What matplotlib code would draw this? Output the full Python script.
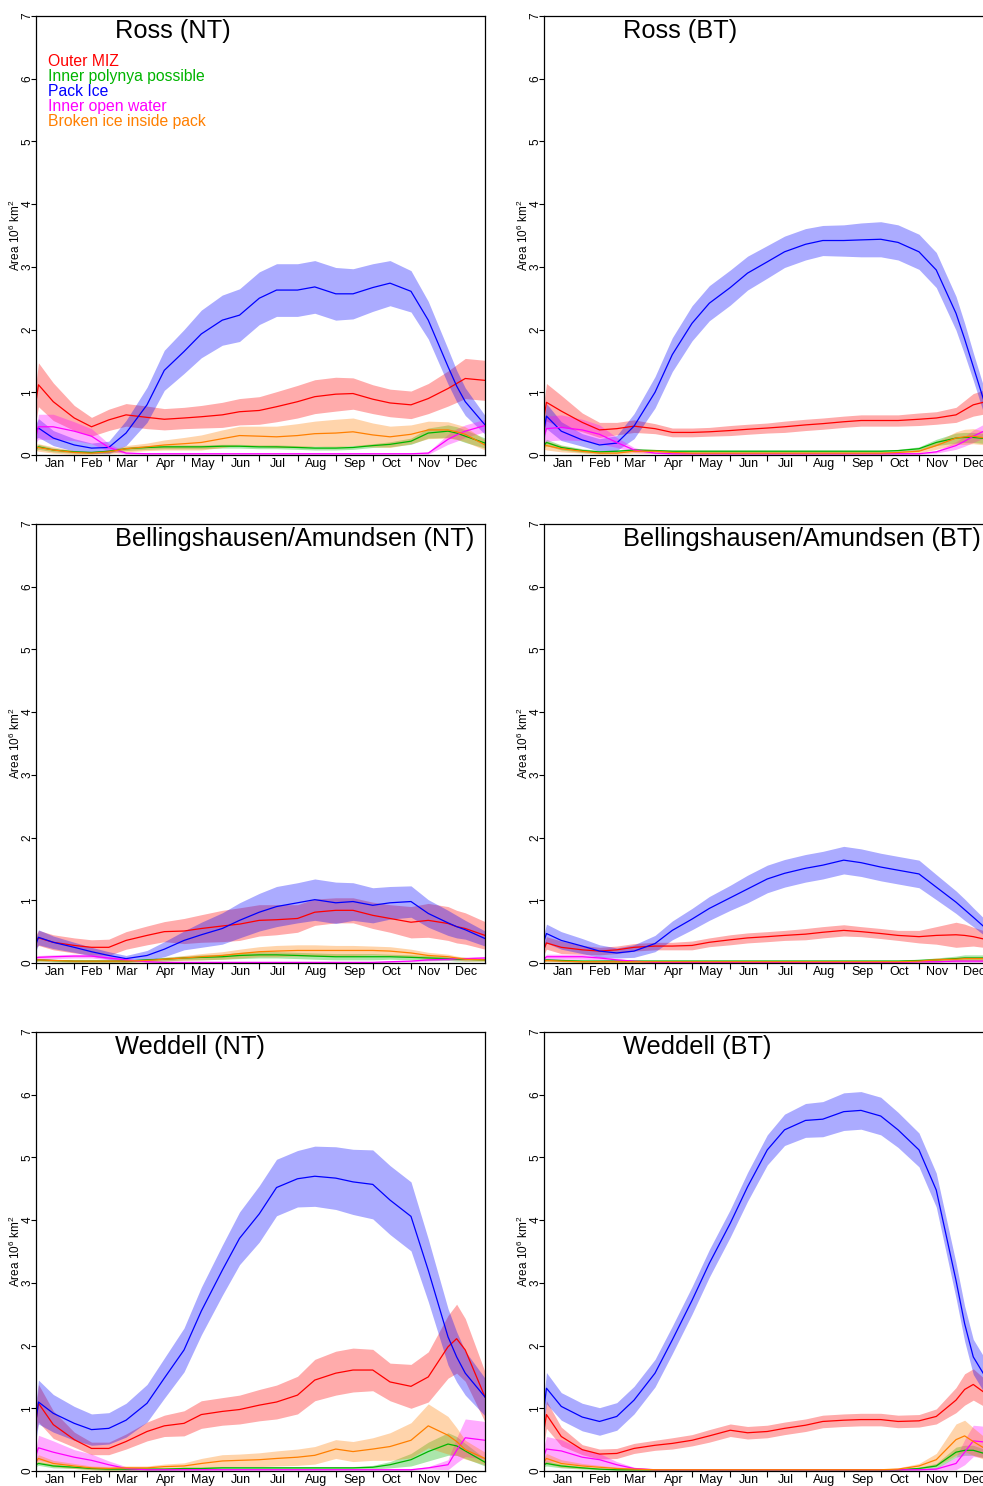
import matplotlib.pyplot as plt

plt.rcParams['font.family'] = ['Liberation Sans', 'DejaVu Sans']
plt.rcParams['mathtext.fontset'] = 'custom'
plt.rcParams['mathtext.rm'] = 'Liberation Sans'
plt.rcParams['mathtext.default'] = 'regular'

# day of year for every sample below
days = [1, 3, 15, 32, 46, 60, 74, 91, 105, 121, 135, 152, 166, 182, 196,
        213, 227, 244, 258, 274, 288, 305, 319, 335, 342, 349, 365]

month_starts = [1, 32, 60, 91, 121, 152, 182, 213, 244, 274, 305, 335]
month_mids = [16, 46, 75, 106, 136, 167, 197, 228, 259, 289, 320, 350]
month_names = ['Jan', 'Feb', 'Mar', 'Apr', 'May', 'Jun',
               'Jul', 'Aug', 'Sep', 'Oct', 'Nov', 'Dec']

class_names = ['Outer MIZ', 'Inner polynya possible', 'Pack Ice',
               'Inner open water', 'Broken ice inside pack']
class_colors = ['#ff0000', '#00b400', '#0000ff', '#ff00ff', '#ff7f00']

# ---- Ross, NASA Team ----
ross_nt_miz = [0.85, 1.12, 0.85, 0.59, 0.45, 0.56, 0.64, 0.60, 0.57, 0.59, 0.61, 0.64, 0.69, 0.71, 0.77,
               0.85, 0.93, 0.97, 0.98, 0.89, 0.83, 0.80, 0.90, 1.06, 1.14, 1.22, 1.19]
ross_nt_miz_sd = [0.30, 0.35, 0.30, 0.20, 0.15, 0.17, 0.18, 0.18, 0.17, 0.17, 0.18, 0.20, 0.21, 0.22, 0.24,
                  0.26, 0.27, 0.27, 0.25, 0.23, 0.22, 0.22, 0.24, 0.28, 0.30, 0.32, 0.32]
ross_nt_poly = [0.10, 0.13, 0.08, 0.05, 0.04, 0.06, 0.10, 0.12, 0.13, 0.13, 0.13, 0.14, 0.14, 0.13, 0.13,
                0.12, 0.11, 0.11, 0.12, 0.15, 0.17, 0.22, 0.35, 0.38, 0.35, 0.30, 0.19]
ross_nt_poly_sd = [0.03, 0.04, 0.03, 0.02, 0.02, 0.02, 0.03, 0.03, 0.03, 0.03, 0.03, 0.03, 0.03, 0.03, 0.03,
                   0.03, 0.03, 0.03, 0.03, 0.03, 0.04, 0.05, 0.08, 0.10, 0.10, 0.10, 0.08]
ross_nt_pack = [0.38, 0.43, 0.27, 0.16, 0.11, 0.12, 0.35, 0.80, 1.35, 1.65, 1.93, 2.15, 2.23, 2.50, 2.63,
                2.63, 2.68, 2.57, 2.57, 2.67, 2.74, 2.61, 2.15, 1.41, 1.10, 0.85, 0.48]
ross_nt_pack_sd = [0.12, 0.15, 0.12, 0.10, 0.08, 0.10, 0.20, 0.28, 0.32, 0.35, 0.38, 0.40, 0.42, 0.42, 0.42,
                   0.42, 0.42, 0.42, 0.40, 0.38, 0.36, 0.33, 0.30, 0.28, 0.25, 0.22, 0.15]
ross_nt_open = [0.30, 0.45, 0.45, 0.38, 0.30, 0.12, 0.03, 0.02, 0.02, 0.02, 0.02, 0.02, 0.02, 0.02, 0.02,
                0.02, 0.02, 0.02, 0.02, 0.02, 0.02, 0.02, 0.03, 0.25, 0.32, 0.38, 0.47]
ross_nt_open_sd = [0.10, 0.20, 0.20, 0.15, 0.12, 0.06, 0.02, 0.01, 0.01, 0.01, 0.01, 0.01, 0.01, 0.01, 0.01,
                   0.01, 0.01, 0.01, 0.01, 0.01, 0.01, 0.01, 0.02, 0.08, 0.10, 0.10, 0.10]
ross_nt_broken = [0.12, 0.12, 0.08, 0.04, 0.03, 0.05, 0.10, 0.13, 0.16, 0.18, 0.20, 0.26, 0.31, 0.30, 0.29,
                  0.31, 0.34, 0.35, 0.37, 0.32, 0.29, 0.33, 0.40, 0.40, 0.37, 0.33, 0.16]
ross_nt_broken_sd = [0.05, 0.06, 0.05, 0.03, 0.02, 0.03, 0.05, 0.06, 0.08, 0.10, 0.12, 0.14, 0.15, 0.16, 0.17,
                     0.19, 0.20, 0.22, 0.22, 0.19, 0.17, 0.15, 0.14, 0.13, 0.12, 0.12, 0.08]

# ---- Ross, Bootstrap ----
ross_bt_miz = [0.60, 0.84, 0.70, 0.52, 0.40, 0.42, 0.46, 0.42, 0.36, 0.36, 0.37, 0.39, 0.41, 0.43, 0.45,
               0.48, 0.50, 0.53, 0.55, 0.55, 0.55, 0.57, 0.59, 0.64, 0.72, 0.80, 0.88]
ross_bt_miz_sd = [0.25, 0.30, 0.25, 0.15, 0.12, 0.10, 0.10, 0.08, 0.07, 0.07, 0.07, 0.08, 0.08, 0.08, 0.09,
                  0.09, 0.09, 0.09, 0.09, 0.09, 0.09, 0.10, 0.10, 0.12, 0.15, 0.18, 0.20]
ross_bt_poly = [0.15, 0.20, 0.12, 0.07, 0.05, 0.06, 0.08, 0.07, 0.06, 0.06, 0.06, 0.06, 0.06, 0.06, 0.06,
                0.06, 0.06, 0.06, 0.06, 0.06, 0.07, 0.10, 0.20, 0.27, 0.28, 0.28, 0.25]
ross_bt_poly_sd = [0.04, 0.05, 0.04, 0.03, 0.02, 0.02, 0.02, 0.02, 0.02, 0.02, 0.02, 0.02, 0.02, 0.02, 0.02,
                   0.02, 0.02, 0.02, 0.02, 0.02, 0.02, 0.03, 0.05, 0.08, 0.08, 0.08, 0.08]
ross_bt_pack = [0.40, 0.62, 0.38, 0.24, 0.16, 0.19, 0.46, 1.00, 1.60, 2.10, 2.42, 2.67, 2.90, 3.08, 3.24,
                3.36, 3.42, 3.42, 3.43, 3.44, 3.39, 3.24, 2.95, 2.26, 1.85, 1.41, 0.40]
ross_bt_pack_sd = [0.15, 0.20, 0.15, 0.10, 0.10, 0.12, 0.20, 0.25, 0.27, 0.28, 0.28, 0.28, 0.27, 0.26, 0.25,
                   0.25, 0.24, 0.25, 0.27, 0.28, 0.28, 0.28, 0.28, 0.27, 0.25, 0.22, 0.20]
ross_bt_open = [0.30, 0.42, 0.44, 0.40, 0.33, 0.20, 0.08, 0.03, 0.02, 0.02, 0.02, 0.02, 0.02, 0.02, 0.02,
                0.02, 0.02, 0.02, 0.02, 0.02, 0.02, 0.02, 0.05, 0.15, 0.22, 0.30, 0.45]
ross_bt_open_sd = [0.15, 0.20, 0.20, 0.17, 0.15, 0.08, 0.04, 0.01, 0.01, 0.01, 0.01, 0.01, 0.01, 0.01, 0.01,
                   0.01, 0.01, 0.01, 0.01, 0.01, 0.01, 0.01, 0.02, 0.06, 0.08, 0.10, 0.12]
ross_bt_broken = [0.15, 0.15, 0.10, 0.06, 0.03, 0.03, 0.06, 0.06, 0.04, 0.03, 0.03, 0.03, 0.03, 0.03, 0.03,
                  0.03, 0.03, 0.03, 0.03, 0.03, 0.04, 0.06, 0.15, 0.27, 0.29, 0.30, 0.25]
ross_bt_broken_sd = [0.06, 0.07, 0.05, 0.03, 0.02, 0.02, 0.03, 0.03, 0.02, 0.02, 0.02, 0.02, 0.02, 0.02, 0.02,
                     0.02, 0.02, 0.02, 0.02, 0.02, 0.02, 0.03, 0.06, 0.10, 0.12, 0.12, 0.10]

# ---- Bellingshausen/Amundsen, NASA Team ----
ba_nt_miz = [0.35, 0.40, 0.33, 0.28, 0.25, 0.25, 0.36, 0.44, 0.50, 0.51, 0.55, 0.59, 0.62, 0.68, 0.69,
             0.71, 0.81, 0.84, 0.84, 0.76, 0.71, 0.65, 0.68, 0.63, 0.58, 0.55, 0.44]
ba_nt_miz_sd = [0.10, 0.12, 0.12, 0.12, 0.12, 0.13, 0.14, 0.15, 0.16, 0.20, 0.22, 0.25, 0.26, 0.25, 0.24,
                0.22, 0.21, 0.20, 0.20, 0.21, 0.22, 0.25, 0.27, 0.27, 0.26, 0.25, 0.22]
ba_nt_poly = [0.04, 0.05, 0.04, 0.03, 0.03, 0.03, 0.03, 0.05, 0.06, 0.08, 0.09, 0.10, 0.12, 0.13, 0.13,
              0.12, 0.11, 0.10, 0.10, 0.10, 0.10, 0.09, 0.08, 0.07, 0.06, 0.06, 0.05]
ba_nt_poly_sd = [0.02, 0.02, 0.02, 0.02, 0.02, 0.02, 0.02, 0.02, 0.03, 0.03, 0.04, 0.04, 0.05, 0.05, 0.05,
                 0.05, 0.05, 0.05, 0.05, 0.05, 0.04, 0.04, 0.04, 0.03, 0.03, 0.03, 0.02]
ba_nt_pack = [0.30, 0.41, 0.33, 0.25, 0.18, 0.12, 0.07, 0.12, 0.22, 0.36, 0.45, 0.55, 0.68, 0.81, 0.90,
              0.96, 1.01, 0.96, 0.98, 0.92, 0.96, 0.98, 0.79, 0.64, 0.58, 0.53, 0.39]
ba_nt_pack_sd = [0.10, 0.12, 0.10, 0.08, 0.07, 0.06, 0.05, 0.08, 0.12, 0.15, 0.20, 0.25, 0.28, 0.30, 0.32,
                 0.32, 0.33, 0.33, 0.30, 0.28, 0.26, 0.25, 0.22, 0.20, 0.18, 0.15, 0.12]
ba_nt_open = [0.08, 0.09, 0.10, 0.11, 0.11, 0.08, 0.05, 0.02, 0.01, 0.01, 0.01, 0.01, 0.01, 0.01, 0.01,
              0.01, 0.01, 0.01, 0.01, 0.01, 0.02, 0.03, 0.05, 0.06, 0.07, 0.07, 0.08]
ba_nt_open_sd = [0.03, 0.03, 0.03, 0.03, 0.03, 0.03, 0.02, 0.01, 0.01, 0.01, 0.01, 0.01, 0.01, 0.01, 0.01,
                 0.01, 0.01, 0.01, 0.01, 0.01, 0.01, 0.01, 0.02, 0.02, 0.02, 0.02, 0.02]
ba_nt_broken = [0.04, 0.05, 0.04, 0.03, 0.03, 0.03, 0.03, 0.04, 0.06, 0.08, 0.10, 0.12, 0.15, 0.18, 0.19,
                0.20, 0.20, 0.20, 0.20, 0.20, 0.19, 0.16, 0.12, 0.10, 0.08, 0.06, 0.05]
ba_nt_broken_sd = [0.02, 0.02, 0.02, 0.02, 0.02, 0.02, 0.02, 0.02, 0.03, 0.04, 0.05, 0.06, 0.07, 0.08, 0.09,
                   0.09, 0.09, 0.08, 0.08, 0.07, 0.07, 0.06, 0.05, 0.04, 0.03, 0.03, 0.02]

# ---- Bellingshausen/Amundsen, Bootstrap ----
ba_bt_miz = [0.22, 0.32, 0.25, 0.21, 0.19, 0.21, 0.25, 0.27, 0.27, 0.28, 0.33, 0.37, 0.40, 0.42, 0.44,
             0.46, 0.49, 0.52, 0.50, 0.47, 0.44, 0.42, 0.44, 0.45, 0.44, 0.42, 0.35]
ba_bt_miz_sd = [0.08, 0.10, 0.10, 0.07, 0.06, 0.06, 0.06, 0.06, 0.06, 0.07, 0.07, 0.08, 0.08, 0.08, 0.08,
                0.09, 0.09, 0.09, 0.08, 0.08, 0.08, 0.10, 0.14, 0.20, 0.18, 0.15, 0.12]
ba_bt_poly = [0.04, 0.05, 0.04, 0.03, 0.03, 0.03, 0.03, 0.03, 0.03, 0.03, 0.03, 0.03, 0.03, 0.03, 0.03,
              0.03, 0.03, 0.03, 0.03, 0.03, 0.03, 0.04, 0.05, 0.07, 0.08, 0.08, 0.08]
ba_bt_poly_sd = [0.02, 0.02, 0.02, 0.02, 0.02, 0.02, 0.02, 0.02, 0.02, 0.02, 0.02, 0.02, 0.02, 0.02, 0.02,
                 0.02, 0.02, 0.02, 0.02, 0.02, 0.02, 0.02, 0.03, 0.04, 0.05, 0.05, 0.05]
ba_bt_pack = [0.35, 0.47, 0.36, 0.27, 0.19, 0.16, 0.19, 0.31, 0.52, 0.70, 0.87, 1.04, 1.18, 1.34, 1.43,
              1.51, 1.56, 1.64, 1.60, 1.53, 1.48, 1.42, 1.21, 0.97, 0.85, 0.73, 0.45]
ba_bt_pack_sd = [0.12, 0.15, 0.14, 0.12, 0.10, 0.08, 0.10, 0.13, 0.15, 0.17, 0.19, 0.20, 0.22, 0.22, 0.22,
                 0.22, 0.22, 0.22, 0.22, 0.22, 0.22, 0.22, 0.20, 0.18, 0.17, 0.15, 0.12]
ba_bt_open = [0.06, 0.10, 0.10, 0.10, 0.08, 0.05, 0.03, 0.01, 0.01, 0.01, 0.01, 0.01, 0.01, 0.01, 0.01,
              0.01, 0.01, 0.01, 0.01, 0.01, 0.01, 0.02, 0.02, 0.03, 0.03, 0.03, 0.03]
ba_bt_open_sd = [0.02, 0.04, 0.04, 0.04, 0.03, 0.02, 0.01, 0.01, 0.01, 0.01, 0.01, 0.01, 0.01, 0.01, 0.01,
                 0.01, 0.01, 0.01, 0.01, 0.01, 0.01, 0.01, 0.01, 0.02, 0.02, 0.02, 0.02]
ba_bt_broken = [0.03, 0.04, 0.03, 0.02, 0.02, 0.02, 0.02, 0.02, 0.02, 0.02, 0.02, 0.02, 0.02, 0.02, 0.02,
                0.02, 0.02, 0.02, 0.02, 0.02, 0.02, 0.03, 0.05, 0.06, 0.07, 0.07, 0.07]
ba_bt_broken_sd = [0.01, 0.02, 0.01, 0.01, 0.01, 0.01, 0.01, 0.01, 0.01, 0.01, 0.01, 0.01, 0.01, 0.01, 0.01,
                   0.01, 0.01, 0.01, 0.01, 0.01, 0.01, 0.02, 0.03, 0.03, 0.03, 0.03, 0.03]

# ---- Weddell, NASA Team ----
wed_nt_miz = [0.80, 1.08, 0.74, 0.50, 0.36, 0.36, 0.47, 0.63, 0.72, 0.76, 0.90, 0.95, 0.98, 1.05, 1.10,
              1.21, 1.45, 1.56, 1.61, 1.61, 1.42, 1.35, 1.50, 1.98, 2.11, 1.93, 1.18]
wed_nt_miz_sd = [0.20, 0.30, 0.22, 0.12, 0.10, 0.10, 0.12, 0.15, 0.17, 0.20, 0.22, 0.22, 0.23, 0.25, 0.27,
                 0.30, 0.33, 0.35, 0.35, 0.33, 0.30, 0.35, 0.40, 0.50, 0.55, 0.50, 0.40]
wed_nt_poly = [0.10, 0.12, 0.08, 0.06, 0.04, 0.03, 0.03, 0.03, 0.03, 0.04, 0.04, 0.05, 0.05, 0.05, 0.05,
               0.05, 0.05, 0.05, 0.05, 0.06, 0.10, 0.18, 0.31, 0.43, 0.40, 0.32, 0.14]
wed_nt_poly_sd = [0.03, 0.03, 0.03, 0.02, 0.02, 0.02, 0.02, 0.02, 0.02, 0.02, 0.02, 0.02, 0.02, 0.02, 0.02,
                  0.02, 0.02, 0.02, 0.02, 0.03, 0.05, 0.10, 0.15, 0.18, 0.15, 0.12, 0.06]
wed_nt_pack = [0.80, 1.10, 0.92, 0.76, 0.66, 0.68, 0.81, 1.08, 1.48, 1.93, 2.55, 3.20, 3.71, 4.10, 4.52,
               4.66, 4.70, 4.67, 4.61, 4.57, 4.32, 4.06, 3.20, 2.14, 1.82, 1.56, 1.18]
wed_nt_pack_sd = [0.30, 0.35, 0.30, 0.27, 0.25, 0.25, 0.27, 0.30, 0.32, 0.35, 0.38, 0.40, 0.42, 0.45, 0.45,
                  0.45, 0.48, 0.50, 0.52, 0.55, 0.55, 0.55, 0.50, 0.45, 0.40, 0.35, 0.30]
wed_nt_open = [0.25, 0.37, 0.30, 0.22, 0.17, 0.10, 0.04, 0.02, 0.02, 0.02, 0.02, 0.02, 0.02, 0.02, 0.02,
               0.02, 0.02, 0.02, 0.02, 0.02, 0.02, 0.02, 0.05, 0.10, 0.33, 0.53, 0.49]
wed_nt_open_sd = [0.12, 0.20, 0.18, 0.12, 0.10, 0.06, 0.03, 0.01, 0.01, 0.01, 0.01, 0.01, 0.01, 0.01, 0.01,
                  0.01, 0.01, 0.01, 0.01, 0.01, 0.01, 0.01, 0.02, 0.08, 0.20, 0.30, 0.30]
wed_nt_broken = [0.15, 0.20, 0.12, 0.08, 0.05, 0.04, 0.05, 0.05, 0.07, 0.08, 0.12, 0.16, 0.17, 0.18, 0.20,
                 0.22, 0.25, 0.35, 0.31, 0.35, 0.39, 0.49, 0.72, 0.57, 0.47, 0.34, 0.20]
wed_nt_broken_sd = [0.05, 0.06, 0.05, 0.04, 0.03, 0.03, 0.03, 0.03, 0.04, 0.05, 0.08, 0.10, 0.10, 0.11, 0.12,
                    0.13, 0.14, 0.15, 0.16, 0.18, 0.22, 0.28, 0.35, 0.30, 0.22, 0.15, 0.10]

# ---- Weddell, Bootstrap ----
wed_bt_miz = [0.65, 0.90, 0.55, 0.34, 0.27, 0.28, 0.36, 0.41, 0.44, 0.49, 0.56, 0.65, 0.61, 0.63, 0.68,
              0.73, 0.79, 0.81, 0.82, 0.82, 0.79, 0.80, 0.87, 1.13, 1.30, 1.38, 1.15]
wed_bt_miz_sd = [0.20, 0.22, 0.15, 0.08, 0.08, 0.08, 0.08, 0.08, 0.09, 0.09, 0.10, 0.10, 0.10, 0.10, 0.10,
                 0.10, 0.10, 0.10, 0.10, 0.10, 0.10, 0.10, 0.12, 0.20, 0.25, 0.25, 0.20]
wed_bt_poly = [0.10, 0.12, 0.08, 0.05, 0.03, 0.02, 0.02, 0.02, 0.02, 0.02, 0.02, 0.02, 0.02, 0.02, 0.02,
               0.02, 0.02, 0.02, 0.02, 0.02, 0.02, 0.04, 0.08, 0.30, 0.33, 0.33, 0.24]
wed_bt_poly_sd = [0.03, 0.04, 0.03, 0.02, 0.01, 0.01, 0.01, 0.01, 0.01, 0.01, 0.01, 0.01, 0.01, 0.01, 0.01,
                  0.01, 0.01, 0.01, 0.01, 0.01, 0.01, 0.02, 0.04, 0.08, 0.08, 0.08, 0.06]
wed_bt_pack = [1.00, 1.32, 1.03, 0.86, 0.79, 0.87, 1.13, 1.56, 2.09, 2.72, 3.31, 3.95, 4.53, 5.12, 5.44,
               5.59, 5.61, 5.73, 5.75, 5.66, 5.44, 5.12, 4.48, 3.04, 2.35, 1.82, 1.30]
wed_bt_pack_sd = [0.20, 0.25, 0.22, 0.22, 0.22, 0.22, 0.22, 0.22, 0.22, 0.22, 0.22, 0.22, 0.23, 0.24, 0.25,
                  0.27, 0.28, 0.30, 0.30, 0.30, 0.28, 0.27, 0.27, 0.28, 0.28, 0.28, 0.28]
wed_bt_open = [0.25, 0.35, 0.32, 0.22, 0.18, 0.10, 0.04, 0.02, 0.02, 0.02, 0.02, 0.02, 0.02, 0.02, 0.02,
               0.02, 0.02, 0.02, 0.02, 0.02, 0.02, 0.02, 0.03, 0.12, 0.30, 0.48, 0.45]
wed_bt_open_sd = [0.15, 0.20, 0.18, 0.13, 0.10, 0.05, 0.02, 0.01, 0.01, 0.01, 0.01, 0.01, 0.01, 0.01, 0.01,
                  0.01, 0.01, 0.01, 0.01, 0.01, 0.01, 0.01, 0.02, 0.10, 0.20, 0.25, 0.25]
wed_bt_broken = [0.15, 0.20, 0.12, 0.08, 0.06, 0.04, 0.03, 0.02, 0.02, 0.02, 0.02, 0.02, 0.02, 0.02, 0.02,
                 0.02, 0.02, 0.02, 0.02, 0.02, 0.03, 0.08, 0.18, 0.50, 0.56, 0.47, 0.28]
wed_bt_broken_sd = [0.06, 0.08, 0.06, 0.04, 0.03, 0.02, 0.02, 0.01, 0.01, 0.01, 0.01, 0.01, 0.01, 0.01, 0.01,
                    0.01, 0.01, 0.01, 0.01, 0.01, 0.02, 0.04, 0.10, 0.25, 0.25, 0.22, 0.15]


def draw_panel(ax, title, series, legend=False):
    # shaded +/- one standard deviation first, then the means on top
    for (mean, sd), col in zip(series, class_colors):
        lo = [m - s for m, s in zip(mean, sd)]
        hi = [m + s for m, s in zip(mean, sd)]
        ax.fill_between(days, lo, hi, color=col, alpha=0.33, linewidth=0)
    for (mean, sd), col in zip(series, class_colors):
        ax.plot(days, mean, color=col, linewidth=0.9)

    ax.set_xlim(1, 365)
    ax.set_ylim(0, 7)

    # month boundaries as ticks, month names centred between them
    ax.set_xticks(month_starts)
    ax.set_xticklabels([])
    ax.set_xticks(month_mids, minor=True)
    ax.set_xticklabels(month_names, minor=True, fontsize=9)
    ax.tick_params(axis='x', which='major', length=4, width=0.8, direction='out')
    ax.tick_params(axis='x', which='minor', length=0, pad=2)

    ax.set_yticks(range(8))
    ax.tick_params(axis='y', length=3.5, width=0.8, direction='out', labelsize=8.5, pad=-1.5)
    for lab in ax.get_yticklabels():
        lab.set_rotation(90)
        lab.set_va('center')
    ax.set_ylabel('Area 10$^6$ km$^2$', fontsize=8.5)
    ax.yaxis.set_label_coords(-0.029, 0.5)

    for sp in ax.spines.values():
        sp.set_linewidth(0.9)
        sp.set_color('black')

    ax.text(0.176, 0.966, title, transform=ax.transAxes,
            ha='left', va='center', fontsize=18.3)

    if legend:
        for i, (name, col) in enumerate(zip(class_names, class_colors)):
            ax.text(0.027, 0.897 - i * 0.0345, name, color=col, transform=ax.transAxes,
                    ha='left', va='center', fontsize=11.3)


panels = [
    ('Ross (NT)', [(ross_nt_miz, ross_nt_miz_sd), (ross_nt_poly, ross_nt_poly_sd),
                   (ross_nt_pack, ross_nt_pack_sd), (ross_nt_open, ross_nt_open_sd),
                   (ross_nt_broken, ross_nt_broken_sd)]),
    ('Ross (BT)', [(ross_bt_miz, ross_bt_miz_sd), (ross_bt_poly, ross_bt_poly_sd),
                   (ross_bt_pack, ross_bt_pack_sd), (ross_bt_open, ross_bt_open_sd),
                   (ross_bt_broken, ross_bt_broken_sd)]),
    ('Bellingshausen/Amundsen (NT)', [(ba_nt_miz, ba_nt_miz_sd), (ba_nt_poly, ba_nt_poly_sd),
                                      (ba_nt_pack, ba_nt_pack_sd), (ba_nt_open, ba_nt_open_sd),
                                      (ba_nt_broken, ba_nt_broken_sd)]),
    ('Bellingshausen/Amundsen (BT)', [(ba_bt_miz, ba_bt_miz_sd), (ba_bt_poly, ba_bt_poly_sd),
                                      (ba_bt_pack, ba_bt_pack_sd), (ba_bt_open, ba_bt_open_sd),
                                      (ba_bt_broken, ba_bt_broken_sd)]),
    ('Weddell (NT)', [(wed_nt_miz, wed_nt_miz_sd), (wed_nt_poly, wed_nt_poly_sd),
                      (wed_nt_pack, wed_nt_pack_sd), (wed_nt_open, wed_nt_open_sd),
                      (wed_nt_broken, wed_nt_broken_sd)]),
    ('Weddell (BT)', [(wed_bt_miz, wed_bt_miz_sd), (wed_bt_poly, wed_bt_poly_sd),
                      (wed_bt_pack, wed_bt_pack_sd), (wed_bt_open, wed_bt_open_sd),
                      (wed_bt_broken, wed_bt_broken_sd)]),
]

W, H = 983, 1486
fig = plt.figure(figsize=(W / 100, H / 100), dpi=100)

col_left = [36, 544]
row_bottom = [455, 963, 1471]
ax_w, ax_h = 449, 439

for k, (title, series) in enumerate(panels):
    r, c = divmod(k, 2)
    ax = fig.add_axes([col_left[c] / W, 1 - row_bottom[r] / H, ax_w / W, ax_h / H])
    draw_panel(ax, title, series, legend=(k == 0))

fig.savefig('out.png', dpi=100)
